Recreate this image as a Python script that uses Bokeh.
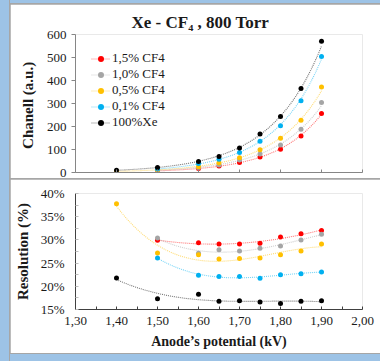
import numpy as np
from bokeh.plotting import figure
from bokeh.models import (Range1d, FixedTicker, Legend, LegendItem, Spacer,
                          CustomJSTickFormatter)
from bokeh.layouts import column, row
from bokeh.embed import file_html
from bokeh.resources import INLINE

# ---------------- data ----------------
series_names = ["1,5% CF4", "1,0% CF4", "0,5% CF4", "0,1% CF4", "100%Xe"]
colors = ["#FF0000", "#A5A5A5", "#FFC000", "#00B0F0", "#000000"]

v_from_150 = [1.50, 1.60, 1.65, 1.70, 1.75, 1.80, 1.85, 1.90]
v_from_140 = [1.40, 1.50, 1.60, 1.65, 1.70, 1.75, 1.80, 1.85, 1.90]
voltages = [v_from_150, v_from_150, v_from_140, v_from_150, v_from_140]

# channel (a.u.)
ch_cf15 = [7, 17, 28, 43, 67, 101, 159, 257]
ch_cf10 = [10, 22, 33, 54, 80, 120, 188, 304]
ch_cf05 = [5, 12, 25, 42, 64, 99, 149, 227, 372]
ch_cf01 = [15, 39, 58, 87, 136, 203, 312, 504]
ch_xe = [10, 22, 48, 70, 107, 167, 243, 365, 571]
channel = [ch_cf15, ch_cf10, ch_cf05, ch_cf01, ch_xe]

# resolution (%)
res_cf15 = [29.9, 29.4, 29.1, 29.1, 29.3, 30.6, 31.3, 32.0]
res_cf10 = [30.4, 27.1, 27.9, 27.6, 28.2, 28.7, 30.0, 31.2]
res_cf05 = [37.8, 27.2, 26.8, 25.9, 26.0, 26.1, 26.8, 27.6, 29.1]
res_cf01 = [26.1, 22.4, 22.1, 22.1, 21.75, 22.5, 22.7, 23.1]
res_xe = [21.8, 17.3, 18.3, 16.8, 16.9, 16.6, 16.3, 16.8, 16.9]
resolution = [res_cf15, res_cf10, res_cf05, res_cf01, res_xe]

x_tick_vals = [1.30, 1.40, 1.50, 1.60, 1.70, 1.80, 1.90, 2.00]
x_tick_labels = ["1,30", "1,40", "1,50", "1,60", "1,70", "1,80", "1,90", "2,00"]
x_minor = [1.35, 1.45, 1.55, 1.65, 1.75, 1.85, 1.95]
ch_ticks = [0, 100, 200, 300, 400, 500, 600]
res_tick_vals = [15, 20, 25, 30, 35, 40]
res_tick_labels = ["15%", "20%", "25%", "30%", "35%", "40%"]
res_minor = [17.5, 22.5, 27.5, 32.5, 37.5]

SERIF = "Liberation Serif"
AXIS_GRAY = "#868686"
TEXT = "#1a1a1a"
FRAME_BLUE = "#9DC3E6"
EDGE_GRAY = "#A6A6A6"


def label_formatter(vals, labels):
    return CustomJSTickFormatter(args=dict(vals=vals, labels=labels), code="""
        for (let i = 0; i < vals.length; i++) {
            if (Math.abs(tick - vals[i]) < 1e-6) { return labels[i]; }
        }
        return '';
    """)


# ---------------- top chart ----------------
p1 = figure(width=370, height=174, x_range=Range1d(1.30, 2.00), y_range=Range1d(0, 600),
            output_backend="svg", toolbar_location=None,
            min_border_left=62, min_border_right=18, min_border_top=30, min_border_bottom=6)
p1.xgrid.visible = False
p1.ygrid.visible = False
p1.outline_line_color = None

p1.title.text = "Xe - CF\u2084 , 800 Torr"
p1.title.align = "left"
p1.title.offset = 56
p1.title.standoff = 5
p1.title.text_font = SERIF
p1.title.text_font_style = "bold"
p1.title.text_font_size = "17px"
p1.title.text_color = TEXT

xa = p1.xaxis[0]
xa.ticker = FixedTicker(ticks=x_tick_vals)
xa.formatter = CustomJSTickFormatter(code="return '';")
xa.major_label_text_font_size = "0px"
xa.major_label_standoff = 0
xa.major_tick_in = 3
xa.major_tick_out = 0
xa.axis_line_color = AXIS_GRAY
xa.major_tick_line_color = AXIS_GRAY

ya = p1.yaxis[0]
ya.ticker = FixedTicker(ticks=ch_ticks)
ya.major_tick_in = 0
ya.major_tick_out = 4
ya.axis_line_color = AXIS_GRAY
ya.major_tick_line_color = AXIS_GRAY
ya.major_label_text_font = SERIF
ya.major_label_text_font_size = "13px"
ya.major_label_text_color = TEXT
ya.major_label_standoff = 5
ya.axis_label = "Chanell  (a.u.)"
ya.axis_label_text_font = SERIF
ya.axis_label_text_font_style = "bold"
ya.axis_label_text_font_size = "15px"
ya.axis_label_text_color = TEXT
ya.axis_label_standoff = 8

items = []
for name, col, xs, ys in zip(series_names, colors, voltages, channel):
    xs_a = np.array(xs)
    ys_a = np.array(ys, dtype=float)
    b, a = np.polyfit(xs_a, np.log(ys_a), 1)
    xf = np.linspace(xs_a.min(), xs_a.max(), 80)
    yf = np.exp(a + b * xf)
    lr = p1.line(xf, yf, line_color=col, line_alpha=0.55, line_width=1.1, line_dash="1 1")
    sr = p1.scatter(xs, ys, size=5, marker="circle", fill_color=col, line_color=None)
    items.append(LegendItem(label=name, renderers=[lr, sr]))

legend = Legend(items=items, location="top_left", margin=16, padding=0, spacing=0,
                label_height=15, glyph_height=15, glyph_width=19, label_standoff=2,
                label_text_font=SERIF, label_text_font_size="13px", label_text_color=TEXT,
                background_fill_alpha=0, border_line_color=None)
p1.add_layout(legend)

# ---------------- bottom chart ----------------
p2 = figure(width=370, height=174, x_range=Range1d(1.30, 2.00), y_range=Range1d(15, 40),
            output_backend="svg", toolbar_location=None,
            min_border_left=65, min_border_right=10, min_border_top=14, min_border_bottom=44)
p2.xgrid.visible = False
p2.ygrid.visible = False
p2.outline_line_color = None

xb = p2.xaxis[0]
xb.ticker = FixedTicker(ticks=x_tick_vals, minor_ticks=x_minor)
xb.formatter = label_formatter(x_tick_vals, x_tick_labels)
xb.major_tick_in = 3
xb.major_tick_out = 0
xb.minor_tick_in = 3
xb.minor_tick_out = 0
xb.axis_line_color = "#404040"
xb.major_tick_line_color = "#404040"
xb.minor_tick_line_color = "#404040"
xb.major_label_text_font = SERIF
xb.major_label_text_font_size = "13px"
xb.major_label_text_color = TEXT
xb.major_label_standoff = 7
xb.axis_label = "Anode\u2019s potential (kV)"
xb.axis_label_text_font = SERIF
xb.axis_label_text_font_style = "bold"
xb.axis_label_text_font_size = "14px"
xb.axis_label_text_color = TEXT
xb.axis_label_standoff = 6

yb = p2.yaxis[0]
yb.ticker = FixedTicker(ticks=res_tick_vals, minor_ticks=res_minor)
yb.formatter = label_formatter(res_tick_vals, res_tick_labels)
yb.major_tick_in = 3
yb.major_tick_out = 0
yb.minor_tick_in = 3
yb.minor_tick_out = 0
yb.axis_line_color = "#404040"
yb.major_tick_line_color = "#BFBFBF"
yb.minor_tick_line_color = "#BFBFBF"
yb.major_label_text_font = SERIF
yb.major_label_text_font_size = "13px"
yb.major_label_text_color = TEXT
yb.major_label_standoff = 11
yb.axis_label = "Resolution (%)"
yb.axis_label_text_font = SERIF
yb.axis_label_text_font_style = "bold"
yb.axis_label_text_font_size = "15px"
yb.axis_label_text_color = TEXT
yb.axis_label_standoff = 7

for name, col, xs, ys in zip(series_names, colors, voltages, resolution):
    xs_a = np.array(xs)
    ys_a = np.array(ys, dtype=float)
    coef = np.polyfit(xs_a, ys_a, 3)
    xf = np.linspace(xs_a.min(), xs_a.max(), 80)
    yf = np.polyval(coef, xf)
    p2.line(xf, yf, line_color=col, line_alpha=0.55, line_width=1.1, line_dash="1 1")
    p2.scatter(xs, ys, size=5, marker="circle", fill_color=col, line_color=None)

# ---------------- frame around the two panels ----------------
top_strip = Spacer(width=370, height=3, styles={"background-color": FRAME_BLUE})
bottom_strip = Spacer(width=370, height=7, styles={"background-color": FRAME_BLUE})
inner = column(top_strip, p1, p2, bottom_strip, spacing=1,
               styles={"background-color": EDGE_GRAY})
left_strip = Spacer(width=9, height=361, styles={"background-color": FRAME_BLUE})
layout = row(left_strip, inner, spacing=1, styles={"background-color": EDGE_GRAY})

open("out.html", "w").write(file_html(layout, INLINE))
